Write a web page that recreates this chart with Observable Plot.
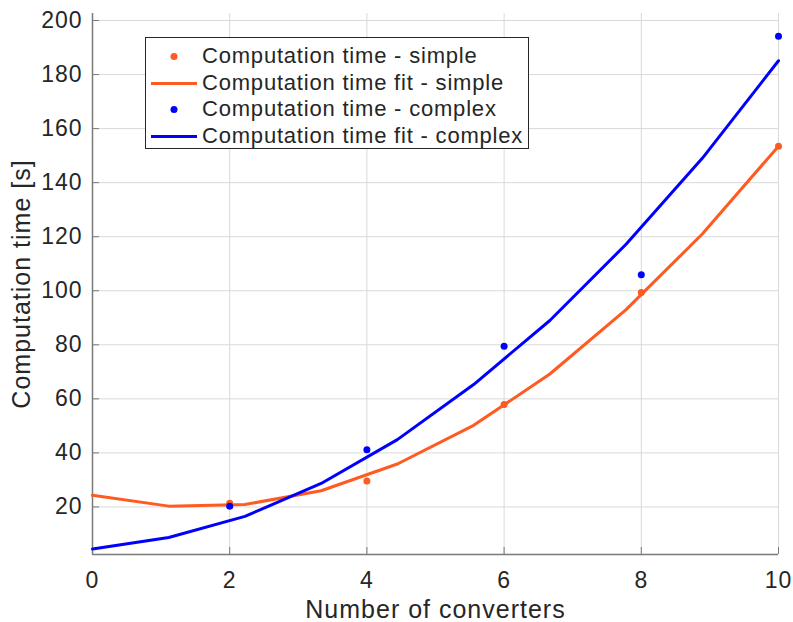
<!DOCTYPE html>
<html>
<head>
<meta charset="utf-8">
<script src="https://cdn.jsdelivr.net/npm/d3@7"></script>
<script src="https://cdn.jsdelivr.net/npm/@observablehq/plot@0.6"></script>
<style>
  html, body { margin: 0; padding: 0; background: #fff; }
  #wrap { position: relative; width: 793px; height: 622px; font-family: "Liberation Sans", Arial, sans-serif; }
  #legend { position: absolute; left: 145px; top: 37px; width: 384px; height: 112px; border: 1px solid #262626; background: #fff; box-sizing: border-box; }
  .row { position: absolute; left: 0; height: 27px; display: flex; align-items: center; font-size: 22px; letter-spacing: 0.8px; color: #262626; white-space: nowrap; }
  .row svg { width: 56px; height: 27px; flex: none; }
</style>
</head>
<body>
<div id="wrap"></div>
<script>
// Data
const converters = [2, 4, 6, 8, 10];
const timeSimple = [21.4, 29.6, 57.9, 99.4, 153.5];
const timeComplex = [20.3, 41.2, 79.5, 105.9, 194.2];

const fitX = [0, 1.111, 2.222, 3.333, 4.444, 5.556, 6.667, 7.778, 8.889, 10];
const fitSimple = [24.3, 20.3, 20.9, 26.0, 35.9, 50.2, 69.2, 93.0, 121.0, 153.5];
const fitComplex = [4.4, 8.7, 16.5, 28.7, 44.9, 65.3, 89.0, 117.2, 149.0, 185.1];

const xTicks = [0, 2, 4, 6, 8, 10];
const yTicks = [20, 40, 60, 80, 100, 120, 140, 160, 180, 200];

const legendLabels = [
  "Computation time - simple",
  "Computation time fit - simple",
  "Computation time - complex",
  "Computation time fit - complex"
];

const orange = "#ff5a1f";
const blue = "#0000ff";
const textColor = "#262626";

const pts = (xs, ys) => xs.map((x, i) => ({x, y: ys[i]}));
const ptsSimple = pts(converters, timeSimple);
const ptsComplex = pts(converters, timeComplex);
const lineSimple = pts(fitX, fitSimple);
const lineComplex = pts(fitX, fitComplex);

const yMin = 2.4, yMax = 202.6;

const chart = Plot.plot({
  width: 793,
  height: 622,
  marginLeft: 92,
  marginRight: 15,
  marginTop: 13,
  marginBottom: 68,
  style: {fontFamily: "Liberation Sans, Arial, sans-serif", color: textColor, background: "#fff"},
  x: {domain: [0, 10]},
  y: {domain: [yMin, yMax]},
  marks: [
    Plot.gridX(xTicks, {stroke: "#d9d9d9", strokeOpacity: 1, strokeWidth: 1}),
    Plot.gridY(yTicks, {stroke: "#d9d9d9", strokeOpacity: 1, strokeWidth: 1}),
    Plot.ruleX([0], {stroke: "#7a7a7a", strokeWidth: 1.5}),
    Plot.ruleY([yMin], {stroke: "#7a7a7a", strokeWidth: 1.5}),
    Plot.axisX(xTicks, {tickSize: -7, tickPadding: 24, fontSize: 23, stroke: "#7a7a7a", fill: textColor,
      label: "Number of converters", labelAnchor: "center", labelArrow: "none", labelOffset: 63}),
    Plot.axisY(yTicks, {tickSize: -7, tickPadding: 17, fontSize: 23, stroke: "#7a7a7a", fill: textColor,
      label: "Computation time [s]", labelAnchor: "center", labelArrow: "none", labelOffset: 80}),
    Plot.line(lineSimple, {x: "x", y: "y", stroke: orange, strokeWidth: 3}),
    Plot.line(lineComplex, {x: "x", y: "y", stroke: blue, strokeWidth: 3}),
    Plot.dot(ptsSimple, {x: "x", y: "y", r: 3.5, fill: orange, stroke: "none"}),
    Plot.dot(ptsComplex, {x: "x", y: "y", r: 3.5, fill: blue, stroke: "none"})
  ]
});

// axis text styling (MATLAB-like wide glyphs)
d3.select(chart).selectAll("[aria-label='x-axis tick label'] text, [aria-label='y-axis tick label'] text")
  .style("letter-spacing", "1px");
d3.select(chart).selectAll("[aria-label='x-axis label'] text, [aria-label='y-axis label'] text")
  .style("font-size", "25px").style("letter-spacing", "1px");

const wrap = document.getElementById("wrap");
wrap.appendChild(chart);

// Legend inside plot area (MATLAB-style)
const legend = document.createElement("div");
legend.id = "legend";
const kinds = [["dot", orange], ["line", orange], ["dot", blue], ["line", blue]];
const rowTops = [4.5, 31.5, 57.5, 84.5];
kinds.forEach(([kind, color], i) => {
  const row = document.createElement("div");
  row.className = "row";
  row.style.top = rowTops[i] + "px";
  const sym = kind === "dot"
    ? `<svg><circle cx="28" cy="13.5" r="3.5" fill="${color}"/></svg>`
    : `<svg><line x1="5" x2="51" y1="13.5" y2="13.5" stroke="${color}" stroke-width="3"/></svg>`;
  row.innerHTML = sym + `<span>${legendLabels[i]}</span>`;
  legend.appendChild(row);
});
wrap.appendChild(legend);
</script>
</body>
</html>
